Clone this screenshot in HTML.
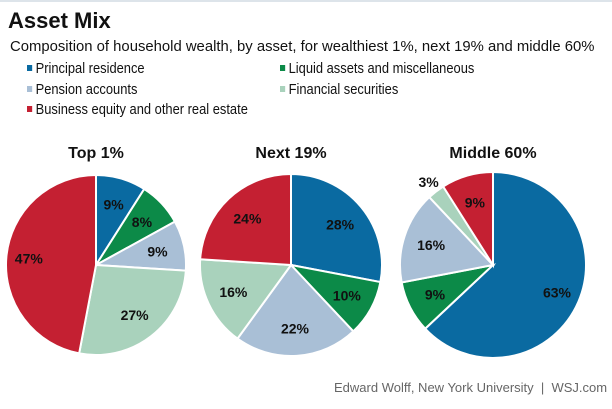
<!DOCTYPE html>
<html><head><meta charset="utf-8"><style>
body{margin:0;width:612px;height:409px;background:#fff;font-family:"Liberation Sans",Arial,sans-serif;overflow:hidden;position:relative}
.t{position:absolute;white-space:nowrap}
.lg{font-size:15px;color:#111;transform:scaleX(0.86);transform-origin:0 0}
.sq{display:inline-block;width:6px;height:6px;margin-right:4px;vertical-align:2px}
</style></head><body>
<div style="position:absolute;left:0;top:0;width:612px;height:2px;background:#dde4ea"></div>
<div class="t" style="left:8px;top:8px;font-size:22px;font-weight:bold;color:#111">Asset Mix</div>
<div class="t" style="left:10px;top:38px;font-size:15px;color:#111;transform:scaleX(0.99);transform-origin:0 0">Composition of household wealth, by asset, for wealthiest 1%, next 19% and middle 60%</div>
<div class="t lg" style="left:27px;top:60px"><span class="sq" style="background:#0a6aa1"></span>Principal residence</div>
<div class="t lg" style="left:280px;top:60px"><span class="sq" style="background:#0c8a48"></span>Liquid assets and miscellaneous</div>
<div class="t lg" style="left:27px;top:81px"><span class="sq" style="background:#a9bfd6"></span>Pension accounts</div>
<div class="t lg" style="left:280px;top:81px"><span class="sq" style="background:#a9d2bc"></span>Financial securities</div>
<div class="t lg" style="left:27px;top:101px"><span class="sq" style="background:#c42032"></span>Business equity and other real estate</div>
<svg id="ch" width="612" height="409" style="position:absolute;left:0;top:0"></svg>
<div class="t" style="left:334px;top:380px;font-size:13px;color:#666">Edward Wolff, New York University &nbsp;|&nbsp; WSJ.com</div>
<script>
const groups=["Top 1%","Next 19%","Middle 60%"];
const categories=["Principal residence","Liquid assets and miscellaneous","Pension accounts","Financial securities","Business equity and other real estate"];
const top1=[9,8,9,27,47];
const next19=[28,10,22,16,24];
const middle60=[63,9,16,3,9];
const colors=["#0a6aa1","#0c8a48","#a9bfd6","#a9d2bc","#c42032"];
const series=[top1,next19,middle60];
const centersX=[96,291,493];
const radii=[90,91,93];
const cy=265;
const svg=document.getElementById('ch');
const NS="http://www.w3.org/2000/svg";
series.forEach((vals,gi)=>{
  const cx=centersX[gi],R=radii[gi];
  const tot=vals.reduce((a,b)=>a+b,0);
  const title=document.createElementNS(NS,'text');
  
  
  title.setAttribute('x',cx);title.setAttribute('y',158);title.setAttribute('text-anchor','middle');
  title.setAttribute('font-size','16');title.setAttribute('font-weight','bold');title.setAttribute('fill','#111');
  title.textContent=groups[gi];svg.appendChild(title);
  let a0=0;
  vals.forEach((v,i)=>{
    const a1=a0+v/tot*2*Math.PI;
    const p=(a)=>[cx+R*Math.sin(a),cy-R*Math.cos(a)];
    const [x0,y0]=p(a0),[x1,y1]=p(a1);
    const path=document.createElementNS(NS,'path');
    
    
    path.setAttribute('d',`M${cx},${cy}L${x0},${y0}A${R},${R} 0 ${a1-a0>Math.PI?1:0} 1 ${x1},${y1}Z`);
    path.setAttribute('fill',colors[i]);path.setAttribute('stroke','#fff');path.setAttribute('stroke-width','2');
    svg.appendChild(path);
    const am=(a0+a1)/2;
    const rr=v<5?R+12:(v>40?R*0.75:R*0.7);
    const lab=document.createElementNS(NS,'text');
    
    
    lab.setAttribute('x',cx+rr*Math.sin(am));lab.setAttribute('y',cy-rr*Math.cos(am)+5);
    lab.setAttribute('text-anchor','middle');lab.setAttribute('font-size','14');lab.setAttribute('font-weight','bold');
    lab.setAttribute('fill','#111');
    lab.textContent=v+'%';svg.appendChild(lab);
    a0=a1;
  });
});
</script>
</body></html>
